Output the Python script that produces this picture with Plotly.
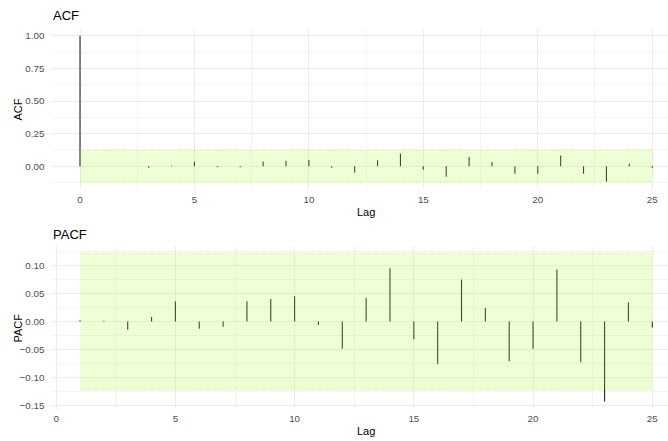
import numpy as np
import plotly.graph_objects as go

# Autocorrelation estimates by lag
acf_lags = list(range(0, 26))
acf_vals = [1.0, 0.001, 0.001, -0.012, 0.006, 0.036, -0.009, -0.009, 0.036, 0.042,
            0.047, -0.011, -0.05, 0.045, 0.098, -0.028, -0.08, 0.07, 0.032, -0.058,
            -0.058, 0.083, -0.058, -0.12, 0.018, -0.012]

# Partial autocorrelation estimates by lag
pacf_lags = list(range(1, 26))
pacf_vals = [0.002, 0.001, -0.015, 0.008, 0.036, -0.013, -0.0095, 0.036, 0.040, 0.045,
             -0.0065, -0.049, 0.042, 0.095, -0.032, -0.076, 0.075, 0.024, -0.071, -0.049,
             0.093, -0.073, -0.143, 0.034, -0.011]

# 95% significance limit
conf = 0.1216

FONT = "Liberation Sans, Arial, sans-serif"
W, H = 668, 441


def stems(lags, vals):
    xs, ys = [], []
    for lag, v in zip(lags, vals):
        xs += [lag, lag, None]
        ys += [0, v, None]
    return xs, ys


def band(lags):
    lo, hi = min(lags), max(lags)
    return [lo, hi, hi, lo, lo], [conf, conf, -conf, -conf, conf]


fig = go.Figure()

for lags, vals, xa, ya in [(acf_lags, acf_vals, "x", "y"),
                           (pacf_lags, pacf_vals, "x2", "y2")]:
    sx, sy = stems(lags, vals)
    fig.add_trace(go.Scatter(x=sx, y=sy, mode="lines", xaxis=xa, yaxis=ya,
                             line=dict(color="#222222", width=1.1),
                             hoverinfo="skip", showlegend=False))
    bx, by = band(lags)
    fig.add_trace(go.Scatter(x=bx, y=by, mode="lines", fill="toself", xaxis=xa, yaxis=ya,
                             fillcolor="rgba(173,255,47,0.2)",
                             line=dict(width=0), hoverinfo="skip", showlegend=False))
    lo, hi = min(lags), max(lags)
    for c in (conf, -conf):
        fig.add_trace(go.Scatter(x=[lo, hi], y=[c, c], mode="lines", xaxis=xa, yaxis=ya,
                                 line=dict(color="rgba(173,255,47,0.45)", width=1, dash="4px,3px"),
                                 hoverinfo="skip", showlegend=False))


def px_x(p):
    return p / W


def px_y(p):
    return 1 - p / H


grid_major = "#ebebeb"
grid_minor = "#f3f3f3"

common_x = dict(showline=False, zeroline=False, showgrid=True, gridcolor=grid_major,
                gridwidth=1.1, tickmode="linear", tick0=0, dtick=5,
                ticks="outside", ticklen=1, tickcolor="rgba(0,0,0,0)",
                tickfont=dict(family=FONT, size=9.8, color="#4d4d4d"),
                minor=dict(showgrid=True, gridcolor=grid_minor, gridwidth=0.8, dtick=2.5, tick0=0),
                domain=[px_x(51.4), 1.0])
common_y = dict(showline=False, zeroline=False, showgrid=True, gridcolor=grid_major,
                gridwidth=1.1, tickmode="linear",
                ticks="outside", ticklen=4, tickcolor="rgba(0,0,0,0)",
                tickfont=dict(family=FONT, size=9.8, color="#4d4d4d"))

fig.update_layout(
    width=W, height=H,
    margin=dict(l=0, r=0, t=0, b=0),
    paper_bgcolor="white", plot_bgcolor="white",
    xaxis=dict(**common_x, range=[-1.25, 25.69], anchor="y"),
    yaxis=dict(**common_y, range=[-0.176, 1.056], tick0=0, dtick=0.25, tickformat=".2f",
               minor=dict(showgrid=True, gridcolor=grid_minor, gridwidth=0.8, dtick=0.125, tick0=0),
               domain=[px_y(190), px_y(28.7)], anchor="x"),
    xaxis2=dict(**common_x, range=[-0.2, 25.66], anchor="y2"),
    yaxis2=dict(**common_y, range=[-0.156, 0.135], tick0=0, dtick=0.05, tickformat=".2f",
                minor=dict(showgrid=True, gridcolor=grid_minor, gridwidth=0.8, dtick=0.025, tick0=0),
                domain=[px_y(410.6), px_y(247)], anchor="x2"),
)

annotations = [
    dict(text="ACF", x=px_x(51), y=px_y(16), xanchor="left", yanchor="middle",
         font=dict(family=FONT, size=13, color="black")),
    dict(text="PACF", x=px_x(51), y=px_y(236), xanchor="left", yanchor="middle",
         font=dict(family=FONT, size=13, color="black")),
    dict(text="Lag", x=px_x(366), y=px_y(213), xanchor="center", yanchor="middle",
         font=dict(family=FONT, size=11, color="black")),
    dict(text="Lag", x=px_x(366), y=px_y(433), xanchor="center", yanchor="middle",
         font=dict(family=FONT, size=11, color="black")),
    dict(text="ACF", x=px_x(18), y=px_y(110), xanchor="center", yanchor="middle",
         textangle=-90, font=dict(family=FONT, size=11, color="black")),
    dict(text="PACF", x=px_x(18), y=px_y(330), xanchor="center", yanchor="middle",
         textangle=-90, font=dict(family=FONT, size=11, color="black")),
]
for a in annotations:
    a.update(xref="paper", yref="paper", showarrow=False)
fig.update_layout(annotations=annotations)

fig.write_html("out.html")
